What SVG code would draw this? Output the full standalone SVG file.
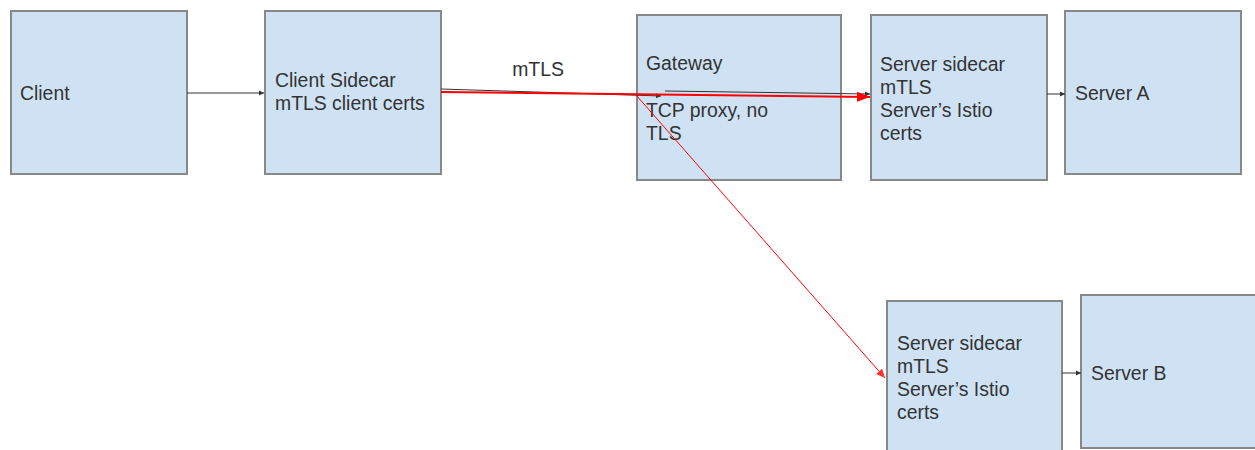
<svg xmlns="http://www.w3.org/2000/svg" width="1255" height="450" viewBox="0 0 1255 450">
<style>
.box{fill:#cfe2f3;stroke:#888;stroke-width:2}
.t{font-family:"Liberation Sans",Arial,sans-serif;font-size:19.4px;fill:#333}
.blk{stroke:#333;stroke-width:1;fill:none}
.red{stroke:#f00;fill:none}
</style>
<defs>
<marker id="ab" markerWidth="6" markerHeight="6" refX="5" refY="3" orient="auto" markerUnits="userSpaceOnUse"><path d="M0,0.5 L5,3 L0,5.5z" fill="#333"/></marker>
<marker id="ar" markerWidth="14" markerHeight="12" refX="13" refY="6" orient="auto" markerUnits="userSpaceOnUse"><path d="M0,1 L13,6 L0,11z" fill="#f00"/></marker>
<marker id="ar2" markerWidth="10" markerHeight="10" refX="9" refY="5" orient="auto" markerUnits="userSpaceOnUse"><path d="M0,1 L9,5 L0,9z" fill="#f33"/></marker>
</defs>
<g id="client"><rect class="box" x="11" y="11" width="176" height="163"/><text class="t" x="20" y="100">Client</text></g>
<g id="client-sidecar"><rect class="box" x="265" y="11" width="176" height="163"/><text class="t" x="275" y="87">Client Sidecar</text><text class="t" x="275" y="110">mTLS client certs</text></g>
<g id="gateway"><rect class="box" x="637" y="15" width="204" height="165"/><text class="t" x="646" y="70">Gateway</text><text class="t" x="646" y="117">TCP proxy, no</text><text class="t" x="646" y="140">TLS</text></g>
<g id="server-sidecar-a"><rect class="box" x="871" y="15" width="176" height="165"/><text class="t" x="880" y="71">Server sidecar</text><text class="t" x="880" y="94">mTLS</text><text class="t" x="880" y="117">Server’s Istio</text><text class="t" x="880" y="140">certs</text></g>
<g id="server-a"><rect class="box" x="1065" y="11" width="176" height="163"/><text class="t" x="1075" y="100">Server A</text></g>
<g id="server-sidecar-b"><rect class="box" x="887" y="301" width="175" height="160"/><text class="t" x="897" y="350">Server sidecar</text><text class="t" x="897" y="373">mTLS</text><text class="t" x="897" y="396">Server’s Istio</text><text class="t" x="897" y="419">certs</text></g>
<g id="server-b"><rect class="box" x="1081" y="295" width="180" height="153"/><text class="t" x="1091" y="380">Server B</text></g>
<g id="connectors">
<line class="blk" x1="187" y1="93" x2="264" y2="93" marker-end="url(#ab)"/>
<line class="blk" x1="441" y1="89" x2="661" y2="96" stroke="#555" marker-end="url(#ab)"/>
<line class="blk" x1="665" y1="91" x2="870" y2="94" stroke="#555" marker-end="url(#ab)"/>
<line class="red" x1="441" y1="92" x2="870" y2="97" stroke-width="2" marker-end="url(#ar)"/>
<line class="red" x1="636" y1="95" x2="885" y2="378" stroke="#f44" stroke-width="1" marker-end="url(#ar2)"/>
<line class="blk" x1="1047" y1="94" x2="1065" y2="94" marker-end="url(#ab)"/>
<line class="blk" x1="1062" y1="373" x2="1081" y2="373" marker-end="url(#ab)"/>
<text class="t" x="538" y="76" text-anchor="middle">mTLS</text>
</g>
</svg>
